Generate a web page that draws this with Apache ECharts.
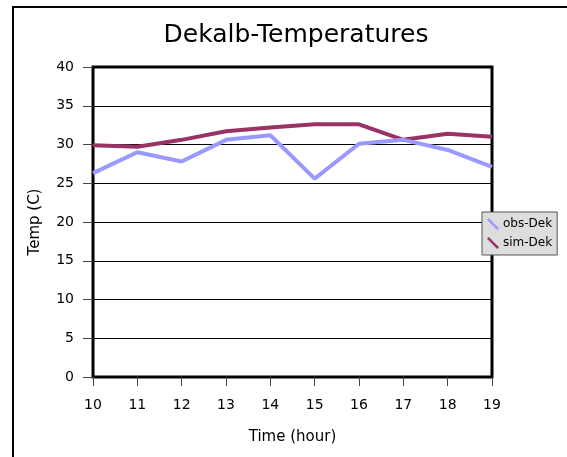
<!DOCTYPE html>
<html>
<head>
<meta charset="utf-8">
<script src="https://cdn.jsdelivr.net/npm/echarts@6/dist/echarts.min.js"></script>
<style>
  html, body { margin: 0; padding: 0; background: #fff; }
  #chart { width: 567px; height: 457px; }
</style>
</head>
<body>
<div id="chart"></div>
<script>
// hours on the x axis
const hours = [10, 11, 12, 13, 14, 15, 16, 17, 18, 19];
const obsDek = [26.3, 29.0, 27.8, 30.6, 31.2, 25.6, 30.1, 30.6, 29.3, 27.1];
const simDek = [29.9, 29.7, 30.6, 31.7, 32.2, 32.6, 32.6, 30.6, 31.4, 31.0];

const FONT = 'DejaVu Sans';
const legendIcon = 'path://M0,1.8 L1.8,0 L12,10.2 L10.2,12 Z';

const chart = echarts.init(document.getElementById('chart'));

const option = {
  animation: false,
  textStyle: { fontFamily: FONT },
  title: {
    text: 'Dekalb-Temperatures',
    left: 291,
    top: 18,
    textAlign: 'center',
    textStyle: { fontFamily: FONT, fontSize: 25, fontWeight: 'normal', color: '#000' }
  },
  graphic: [{
    // outer chart frame
    type: 'rect',
    shape: { x: 13, y: 7, width: 600, height: 500 },
    style: { fill: 'none', stroke: '#000', lineWidth: 2 },
    silent: true
  }],
  legend: {
    orient: 'vertical',
    left: 482,
    top: 212,
    padding: [6, 5, 6, 5],
    itemGap: 7,
    itemWidth: 12,
    itemHeight: 12,
    backgroundColor: '#dddddd',
    borderColor: '#555',
    borderWidth: 1,
    borderRadius: 0,
    textStyle: { fontFamily: FONT, fontSize: 12, color: '#000', padding: [0, 0, 0, -1] },
    data: [
      { name: 'obs-Dek', icon: legendIcon },
      { name: 'sim-Dek', icon: legendIcon }
    ]
  },
  grid: {
    left: 93,
    top: 67,
    width: 399,
    height: 310,
    show: true,
    borderColor: '#000',
    borderWidth: 3,
    backgroundColor: 'transparent'
  },
  xAxis: {
    type: 'value',
    min: 10,
    max: 19,
    interval: 1,
    name: 'Time (hour)',
    nameLocation: 'middle',
    nameGap: 53,
    nameTextStyle: { fontFamily: FONT, fontSize: 15, color: '#000' },
    axisLine: { show: false },
    axisTick: { show: true, length: 9, lineStyle: { color: '#444', width: 1 } },
    axisLabel: { fontFamily: FONT, fontSize: 14, color: '#000', margin: 21 },
    splitLine: { show: false }
  },
  yAxis: {
    type: 'value',
    min: 0,
    max: 40,
    interval: 5,
    name: 'Temp (C)',
    nameLocation: 'middle',
    nameGap: 50,
    nameTextStyle: { fontFamily: FONT, fontSize: 15, color: '#000' },
    axisLine: { show: false },
    axisTick: { show: true, length: 10, lineStyle: { color: '#444', width: 1 } },
    axisLabel: { fontFamily: FONT, fontSize: 14, color: '#000', margin: 19 },
    splitLine: { show: true, lineStyle: { color: '#000', width: 1 } }
  },
  series: [
    {
      name: 'obs-Dek',
      type: 'line',
      data: hours.map((h, i) => [h, obsDek[i]]),
      symbol: 'none',
      color: '#9999ff',
      lineStyle: { color: '#9999ff', width: 4 },
      z: 3
    },
    {
      name: 'sim-Dek',
      type: 'line',
      data: hours.map((h, i) => [h, simDek[i]]),
      symbol: 'none',
      color: '#993366',
      lineStyle: { color: '#993366', width: 4 },
      z: 2
    }
  ]
};

chart.setOption(option);
</script>
</body>
</html>
